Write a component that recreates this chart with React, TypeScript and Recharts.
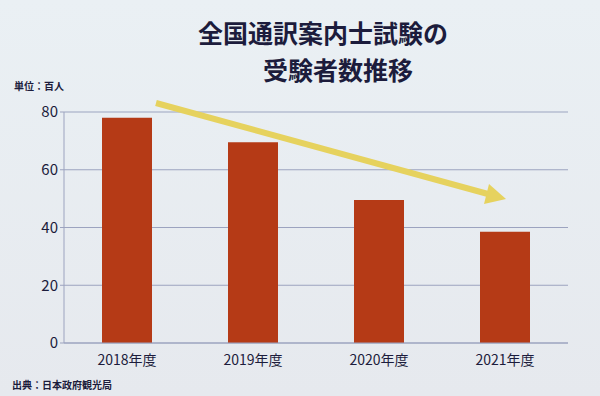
import { BarChart, Bar, XAxis, YAxis, CartesianGrid } from "recharts";

const YEARS = ["2018年度", "2019年度", "2020年度", "2021年度"];
const EXAMINEES = [78, 69.5, 49.5, 38.5];
const Y_TICKS = [0, 20, 40, 60, 80];

const chartData = YEARS.map((year, i) => ({ year, value: EXAMINEES[i] }));

const NAVY = "#1c1c3c";
const FONT = "'Noto Sans CJK JP', 'Noto Sans', sans-serif";

export default function App() {
  return (
    <div
      style={{
        position: "absolute",
        left: 0,
        top: 0,
        width: 600,
        height: 396,
        background: "linear-gradient(180deg, #eaf0f4 0%, #e6e9ee 100%)",
        fontFamily: FONT,
        overflow: "hidden",
      }}
    >
      <div
        style={{
          position: "absolute",
          top: 14,
          left: 0,
          width: 646,
          textAlign: "center",
          fontSize: 25,
          fontWeight: 700,
          color: NAVY,
          lineHeight: "37px",
        }}
      >
        全国通訳案内士試験の
        <br />
        <span style={{ marginLeft: 30 }}>受験者数推移</span>
      </div>
      <div
        style={{
          position: "absolute",
          top: 78,
          left: 14,
          fontSize: 10,
          fontWeight: 700,
          color: NAVY,
        }}
      >
        単位：百人
      </div>
      <BarChart
        width={600}
        height={396}
        data={chartData}
        margin={{ top: 112, right: 32, bottom: 23, left: 14 }}
      >
        <CartesianGrid vertical={false} stroke="#9ca3bf" strokeWidth={1.2} />
        <XAxis
          dataKey="year"
          height={30}
          tickLine={false}
          axisLine={{ stroke: "#9ca3bf" }}
          tick={{ fill: NAVY, fontSize: 14, fontFamily: FONT }}
          tickMargin={6}
        />
        <YAxis
          width={50}
          domain={[0, 80]}
          ticks={Y_TICKS}
          tickSize={4}
          tickLine={{ stroke: "#9ca3bf" }}
          axisLine={{ stroke: "#9ca3bf" }}
          tick={{ fill: NAVY, fontSize: 15, fontFamily: FONT }}
        />
        <Bar dataKey="value" fill="#b53a16" barSize={50} isAnimationActive={false} />
      </BarChart>
      <svg
        width={600}
        height={396}
        style={{ position: "absolute", left: 0, top: 0, pointerEvents: "none" }}
      >
        <line x1={156} y1={103} x2={488} y2={194} stroke="#e6d25e" strokeWidth={6} />
        <polygon points="506,199 484,204 489,184" fill="#e6d25e" />
      </svg>
      <div
        style={{
          position: "absolute",
          top: 377,
          left: 12,
          fontSize: 10,
          fontWeight: 700,
          color: NAVY,
        }}
      >
        出典：日本政府観光局
      </div>
    </div>
  );
}
